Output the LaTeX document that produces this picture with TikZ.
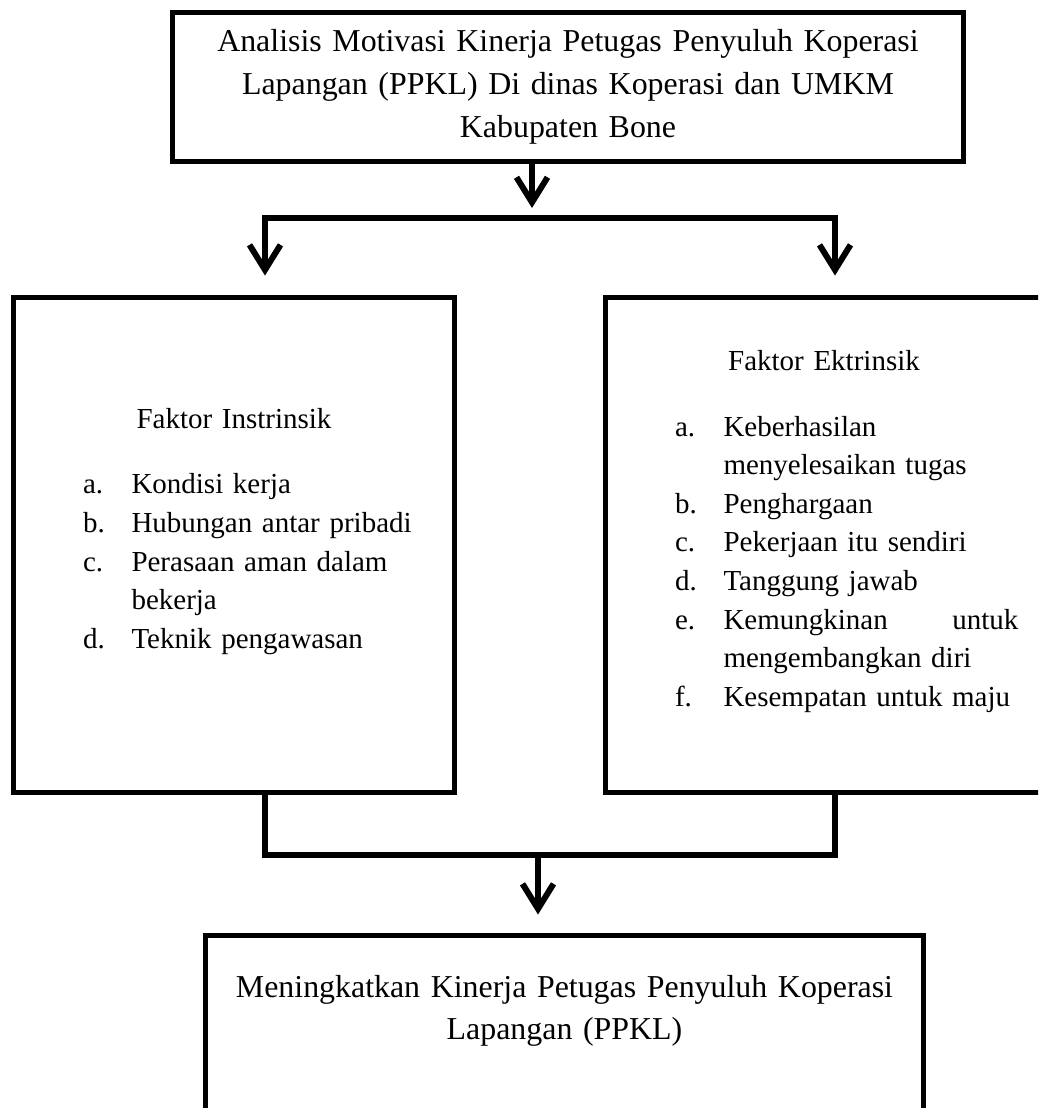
\documentclass[tikz,border=0pt]{standalone}
\usepackage{fontspec}
\setmainfont{Liberation Serif}
\usetikzlibrary{
    arrows.meta
}

\newcommand{\butir}[2]{\noindent\hspace*{-0.97cm}\makebox[0.97cm][l]{#1}#2\par}
\newcommand{\daftar}{\raggedright\leftskip=2.37cm\relax}

\begin{document}
\begin{tikzpicture}[
x=0.02cm, y=-0.02cm,
>={Straight Barb[length=0.5cm,width=0.62cm]},
kotak/.style={
draw,
line width=0.1cm,
inner sep=0pt
},
judulkotak/.style={
kotak,
align=center,
font=\fontsize{18.15}{24.3}\selectfont
},
faktorkotak/.style={
kotak,
minimum height=9.92cm,
font=\fontsize{16.5}{22}\selectfont
},
garis/.style={line width=0.12cm},
panah/.style={garis, ->}
]

\useasboundingbox (0,0) rectangle (1038,1108);
\clip (0,0) rectangle (1038,1108);

\node[judulkotak, minimum width=15.84cm, minimum height=2.98cm,
text width=15.84cm] (judul) at (568,87)
{Analisis Motivasi Kinerja Petugas Penyuluh Koperasi\\
Lapangan (PPKL) Di dinas Koperasi dan UMKM\\
Kabupaten Bone};

\node[faktorkotak, minimum width=8.84cm, text width=8.84cm]
(intrinsik) at (234,545)
{{\centering Faktor Instrinsik\par}\vspace{0.54cm}
\daftar
\butir{a.}{Kondisi kerja}
\butir{b.}{Hubungan antar pribadi}
\butir{c.}{Perasaan aman dalam\\bekerja}
\butir{d.}{Teknik pengawasan}
\kern0.54cm};

\node[faktorkotak, minimum width=8.76cm, text width=8.76cm]
(ekstrinsik) at (824,545)
{{\centering Faktor Ektrinsik\par}\vspace{0.54cm}
\daftar
\butir{a.}{Keberhasilan\\menyelesaikan tugas}
\butir{b.}{Penghargaan}
\butir{c.}{Pekerjaan itu sendiri}
\butir{d.}{Tanggung jawab}
\butir{e.}{\makebox[5.9cm][s]{Kemungkinan\hfill untuk}\\mengembangkan diri}
\butir{f.}{Kesempatan untuk maju}
\kern0.54cm};

\node[judulkotak, minimum width=14.38cm, minimum height=3.9cm,
text width=14.38cm] (hasil) at (564.5,1032.5)
{Meningkatkan Kinerja Petugas Penyuluh Koperasi\\
Lapangan (PPKL)\par\kern0.86cm};

% cabang ke dua faktor
\coordinate (bagi) at (532,218);
\coordinate (kiri) at (265,218);
\coordinate (kanan) at (835,218);
\coordinate (gabung) at (538,855);

\draw[panah, shorten >=0.2cm]
(judul.south -| bagi) -- (bagi);

\draw[garis, <->, shorten <=0.38cm, shorten >=0.38cm]
(intrinsik.north -| kiri) |- (kanan) -- (ekstrinsik.north -| kanan);

% gabungan ke hasil
\draw[garis]
(intrinsik.south -| kiri) |- (gabung) -| (ekstrinsik.south -| kanan);

\draw[panah, shorten >=0.36cm]
(gabung) -- (gabung |- hasil.north);

\end{tikzpicture}
\end{document}
